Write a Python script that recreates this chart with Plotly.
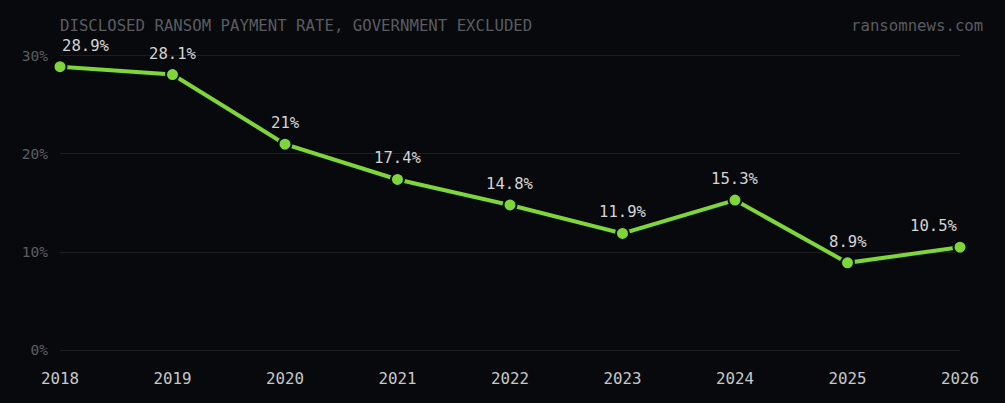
import plotly.graph_objects as go

years = [2018, 2019, 2020, 2021, 2022, 2023, 2024, 2025, 2026]
rates = [28.9, 28.1, 21, 17.4, 14.8, 11.9, 15.3, 8.9, 10.5]
labels = ["28.9%", "28.1%", "21%", "17.4%", "14.8%", "11.9%", "15.3%", "8.9%", "10.5%"]
y_ticks = [0, 10, 20, 30]
y_tick_text = ["0%", "10%", "20%", "30%"]

BG = "#07090d"
GREEN = "#7ed63a"
FONT = "DejaVu Sans Mono"

fig = go.Figure()
fig.add_trace(go.Scatter(
    x=years, y=rates, mode="lines+markers",
    line=dict(color=GREEN, width=4),
    marker=dict(size=13, color=GREEN, line=dict(color=BG, width=2)),
    cliponaxis=False, hoverinfo="skip",
))

for i, (x, y, t) in enumerate(zip(years, rates, labels)):
    anchor = "center"
    if i == 0:
        anchor = "left"
    elif i == len(years) - 1:
        anchor = "right"
    fig.add_annotation(x=x, y=y, text=t, showarrow=False, xanchor=anchor,
                       yanchor="middle", yshift=21,
                       font=dict(family=FONT, size=15.6, color="#d4d4d4"))

fig.add_annotation(xref="paper", yref="paper", x=0, y=1, xshift=-2, yshift=26,
                   text="DISCLOSED RANSOM PAYMENT RATE, GOVERNMENT EXCLUDED",
                   showarrow=False, xanchor="left", yanchor="middle",
                   font=dict(family=FONT, size=15.7, color="#5a5c60"))
fig.add_annotation(xref="paper", yref="paper", x=1, y=1, xshift=25, yshift=26,
                   text="ransomnews.com", showarrow=False, xanchor="right", yanchor="middle",
                   font=dict(family=FONT, size=15.7, color="#5a5c60"))

fig.update_layout(
    width=1005, height=403,
    paper_bgcolor=BG, plot_bgcolor=BG,
    margin=dict(l=60, r=45, t=51, b=48),
    showlegend=False,
    font=dict(family=FONT),
)
fig.update_xaxes(range=[2018, 2026], tickvals=years, ticktext=[str(y) for y in years],
                 showgrid=False, zeroline=False, showline=False,
                 tickfont=dict(family=FONT, size=15.8, color="#c8c8c8"),
                 ticks="", ticklabelstandoff=12)
fig.update_yaxes(range=[-0.5, 30.5], tickvals=y_ticks, ticktext=y_tick_text,
                 showgrid=True, gridcolor="#1c1e22", gridwidth=1, zeroline=False,
                 showline=False, tickfont=dict(family=FONT, size=14.5, color="#5c5e62"),
                 ticks="", ticklabelstandoff=11)

fig.write_html("out.html", post_script="document.body.style.margin='0';",
               config={"displayModeBar": False})
